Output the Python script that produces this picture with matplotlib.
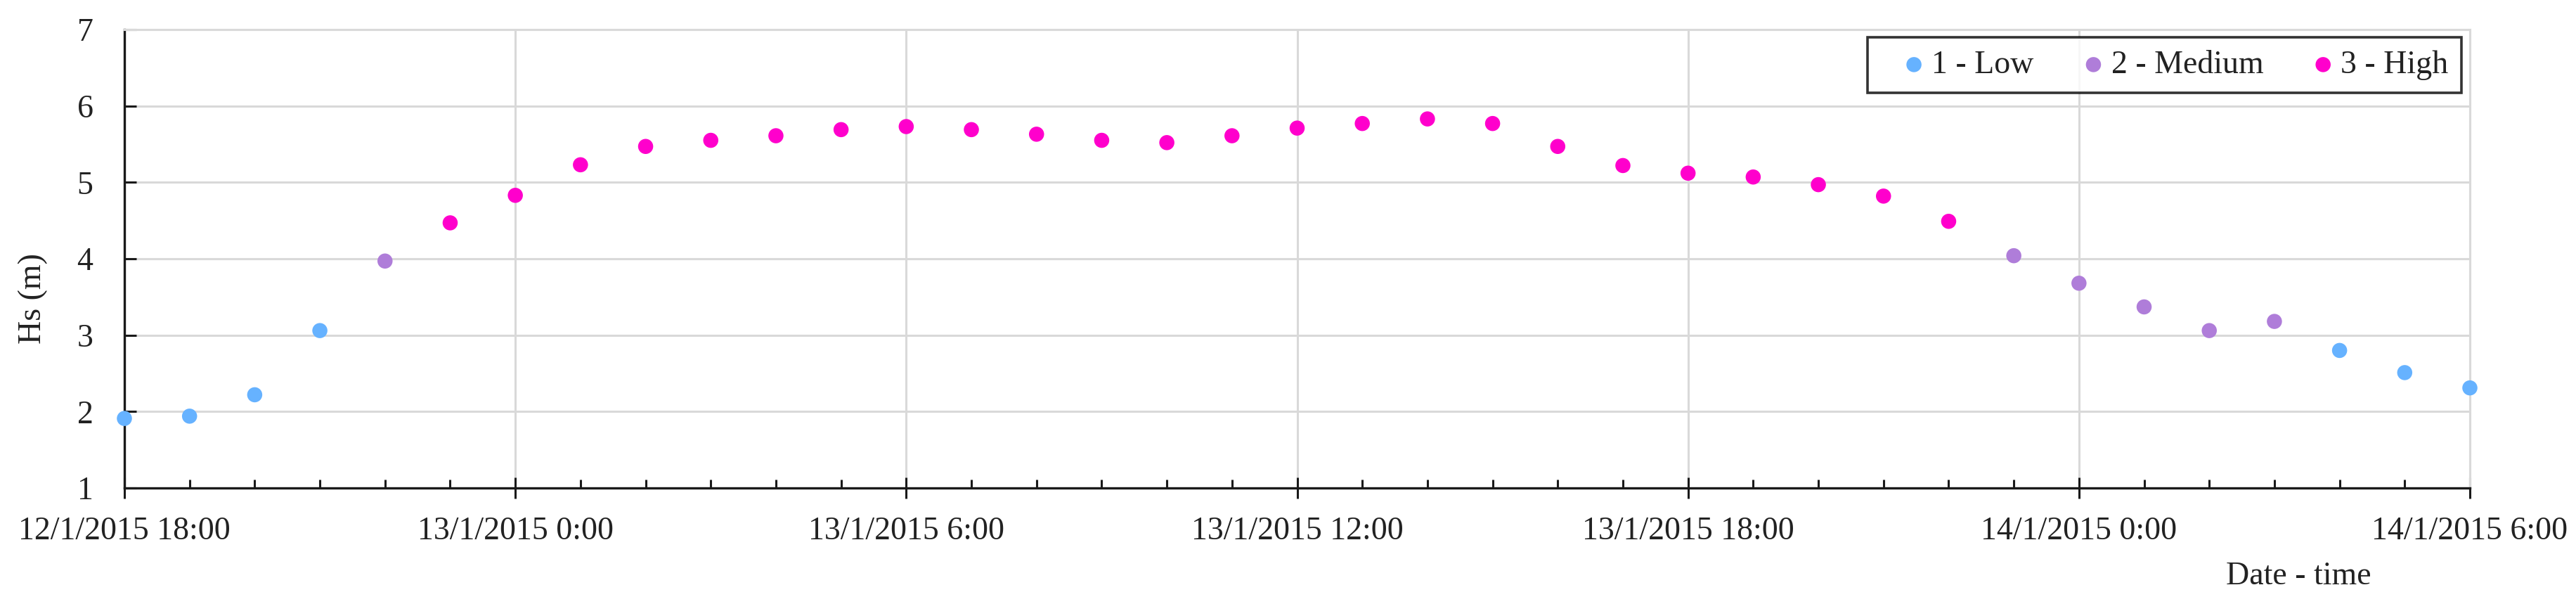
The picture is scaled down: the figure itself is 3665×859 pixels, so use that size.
import matplotlib
matplotlib.use("Agg")
import matplotlib.pyplot as plt
import matplotlib.dates as mdates
from matplotlib.ticker import FuncFormatter, MultipleLocator
import pandas as pd

# hourly significant wave height, 12/1/2015 18:00 -> 14/1/2015 6:00
start = "2015-01-12 18:00"
end = "2015-01-14 06:00"
hs = [1.91, 1.94, 2.22, 3.06, 3.97, 4.47, 4.83, 5.23, 5.47, 5.55,
      5.61, 5.69, 5.73, 5.69, 5.63, 5.55, 5.52, 5.61, 5.71, 5.77,
      5.83, 5.77, 5.47, 5.22, 5.12, 5.07, 4.97, 4.82, 4.49, 4.04,
      3.68, 3.37, 3.06, 3.18, 2.80, 2.51, 2.31]
# storm class of each point: 1 low, 2 medium, 3 high
level = [1, 1, 1, 1, 2, 3, 3, 3, 3, 3,
         3, 3, 3, 3, 3, 3, 3, 3, 3, 3,
         3, 3, 3, 3, 3, 3, 3, 3, 3, 2,
         2, 2, 2, 2, 1, 1, 1]
level_names = {1: "1 - Low", 2: "2 - Medium", 3: "3 - High"}
level_colors = {1: "#66B2FF", 2: "#AF7DD9", 3: "#FF00CC"}

times = pd.date_range(start, end, freq="h")
df = pd.DataFrame({"time": times, "hs": hs, "level": level})

plt.rcParams["font.family"] = ["Liberation Serif", "DejaVu Serif"]
plt.rcParams["font.size"] = 33

fig = plt.figure(figsize=(36.66, 8.59), dpi=100)
ax = fig.add_axes([0.04828, 0.19208, 0.91026, 0.75903])

for lv in [1, 2, 3]:
    sub = df[df["level"] == lv]
    ax.scatter(sub["time"], sub["hs"], s=240, color=level_colors[lv],
               edgecolors="none", label=level_names[lv], zorder=3,
               clip_on=False)

ax.set_xlim(times[0], times[-1])
ax.set_ylim(1, 7)

# axes and grid
grid_c = "#D9D9D9"
ax.grid(True, which="major", color=grid_c, linewidth=2.2, zorder=0)
ax.set_axisbelow(True)
for side in ["left", "bottom"]:
    ax.spines[side].set_linewidth(2.4)
    ax.spines[side].set_color("#1a1a1a")
    ax.spines[side].set_zorder(2.5)
for side in ["top", "right"]:
    ax.spines[side].set_linewidth(2.2)
    ax.spines[side].set_color(grid_c)

ax.yaxis.set_major_locator(MultipleLocator(1))
ax.tick_params(axis="y", which="major", direction="in", length=12,
               width=2.2, color="#1a1a1a", pad=32, labelcolor="#222222")

ax.xaxis.set_major_locator(mdates.HourLocator(byhour=[0, 6, 12, 18]))
ax.xaxis.set_minor_locator(mdates.HourLocator())


def fmt_date(x, pos):
    d = mdates.num2date(x)
    return f"{d.day}/{d.month}/{d.year} {d.hour}:{d.minute:02d}"


ax.xaxis.set_major_formatter(FuncFormatter(fmt_date))
ax.tick_params(axis="x", which="major", direction="inout", length=21.6,
               width=2.2, color="#1a1a1a", pad=18, labelcolor="#222222")
ax.tick_params(axis="x", which="minor", direction="in", length=8.6,
               width=2.2, color="#1a1a1a")

ax.set_ylabel("Hs (m)", color="#222222")
ax.yaxis.set_label_coords(-0.0327, 0.414)
ax.set_xlabel("Date - time", color="#222222")
ax.xaxis.set_label_coords(0.927, -0.16)

leg = ax.legend(loc="upper right", bbox_to_anchor=(0.9964, 0.983),
                ncol=3, frameon=True, fancybox=False,
                borderaxespad=0, borderpad=0.4, handlelength=2.1,
                handletextpad=-0.5, columnspacing=0.8, markerscale=1.0,
                fontsize=33)
leg.get_frame().set_edgecolor("black")
leg.get_frame().set_linewidth(2.6)
for t in leg.get_texts():
    t.set_color("#222222")

fig.savefig("out.png", dpi=100, facecolor="white")
